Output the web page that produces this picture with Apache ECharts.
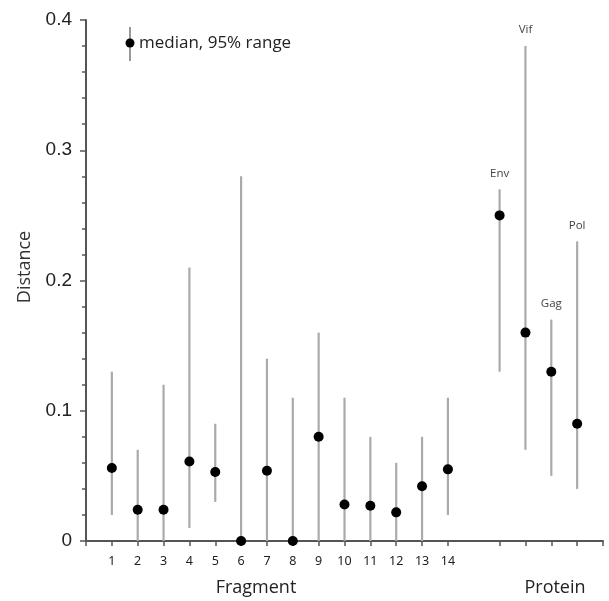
<!DOCTYPE html>
<html>
<head>
<meta charset="utf-8">
<script src="https://cdn.jsdelivr.net/npm/echarts@6/dist/echarts.min.js"></script>
<style>html,body{margin:0;padding:0;background:#fff}#c{width:609px;height:601px}</style>
</head>
<body>
<div id="c"></div>
<script>
// Fragments (x positions 1..14)
var fragPos = [1,2,3,4,5,6,7,8,9,10,11,12,13,14];
var fragMedian = [0.056,0.024,0.024,0.061,0.053,0,0.054,0,0.080,0.028,0.027,0.022,0.042,0.055];
var fragLow    = [0.02,0,0,0.01,0.03,0,0,0,0,0,0,0,0,0.02];
var fragHigh   = [0.13,0.07,0.12,0.21,0.09,0.28,0.14,0.11,0.16,0.11,0.08,0.06,0.08,0.11];
// Proteins (x positions 16..19)
var protNames  = ['Env','Vif','Gag','Pol'];
var protPos    = [16,17,18,19];
var protMedian = [0.25,0.16,0.13,0.09];
var protLow    = [0.13,0.07,0.05,0.04];
var protHigh   = [0.27,0.38,0.17,0.23];
// Axis ticks
var xTickValues  = [0,1,2,3,4,5,6,7,8,9,10,11,12,13,14,16,17,18,19,20];
var xLabelValues = [1,2,3,4,5,6,7,8,9,10,11,12,13,14];

var rangeData = [];
fragPos.forEach(function(p,i){ rangeData.push([p, fragLow[i], fragHigh[i], '']); });
protPos.forEach(function(p,i){ rangeData.push([p, protLow[i], protHigh[i], protNames[i]]); });
var medData = [];
fragPos.forEach(function(p,i){ medData.push([p, fragMedian[i]]); });
protPos.forEach(function(p,i){ medData.push([p, protMedian[i]]); });

var chart = echarts.init(document.getElementById('c'), null, {renderer:'canvas'});
chart.setOption({
  animation:false,
  grid:{left:86, right:6, top:20, bottom:60, containLabel:false},
  xAxis:{
    type:'value', min:0, max:20, interval:1,
    axisLine:{show:true, onZero:false, lineStyle:{color:'#555', width:2}},
    axisTick:{show:true, customValues:xTickValues, length:5, lineStyle:{color:'#555', width:1.5}},
    axisLabel:{show:true, customValues:xLabelValues, margin:14, color:'#222', fontSize:12.5, fontFamily:'Noto Sans'},
    splitLine:{show:false}
  },
  yAxis:{
    type:'value', min:0, max:0.4, interval:0.1,
    axisLine:{show:true, lineStyle:{color:'#555', width:2}},
    axisTick:{show:true, length:6, lineStyle:{color:'#555', width:1.5}},
    minorTick:{show:true, splitNumber:5, length:4, lineStyle:{color:'#555', width:1.5}},
    axisLabel:{margin:14, color:'#222', fontSize:19, fontFamily:'Liberation Sans',
      formatter:function(v){ return v===0 ? '0' : v.toFixed(1); }},
    splitLine:{show:false}
  },
  series:[
    {
      type:'custom',
      data:rangeData,
      encode:{x:0, y:[1,2]},
      renderItem:function(params, api){
        var x = api.value(0);
        var lo = api.coord([x, api.value(1)]);
        var hi = api.coord([x, api.value(2)]);
        var name = rangeData[params.dataIndex][3];
        var children = [{
          type:'line',
          shape:{x1:lo[0], y1:lo[1], x2:hi[0], y2:hi[1]},
          style:{stroke:'#aaa', lineWidth:2.2}
        }];
        if(name){
          children.push({
            type:'text',
            style:{text:name, x:hi[0], y:hi[1]-10, align:'center', verticalAlign:'bottom',
              fill:'#444', fontSize:11.5, fontFamily:'Open Sans'}
          });
        }
        return {type:'group', children:children};
      },
      z:2
    },
    {
      type:'scatter',
      data:medData,
      symbol:'circle', symbolSize:10,
      itemStyle:{color:'#000', opacity:1},
      z:3
    }
  ],
  graphic:[
    {type:'line', shape:{x1:130, y1:27, x2:130, y2:61}, style:{stroke:'#777', lineWidth:1.5}},
    {type:'circle', shape:{cx:130, cy:43, r:4.5}, style:{fill:'#000'}},
    {type:'text', style:{text:'median, 95% range', x:139, y:43, verticalAlign:'middle',
      fill:'#222', fontSize:17, fontFamily:'Open Sans'}},
    {type:'text', x:25, y:267, rotation:Math.PI/2,
      style:{text:'Distance', x:0, y:0, align:'center', verticalAlign:'middle',
      fill:'#333', fontSize:18, fontFamily:'Open Sans'}},
    {type:'text', style:{text:'Fragment', x:256, y:588, align:'center', verticalAlign:'middle',
      fill:'#222', fontSize:18, fontFamily:'Open Sans'}},
    {type:'text', style:{text:'Protein', x:555, y:588, align:'center', verticalAlign:'middle',
      fill:'#222', fontSize:18, fontFamily:'Open Sans'}}
  ]
});
</script>
</body>
</html>
